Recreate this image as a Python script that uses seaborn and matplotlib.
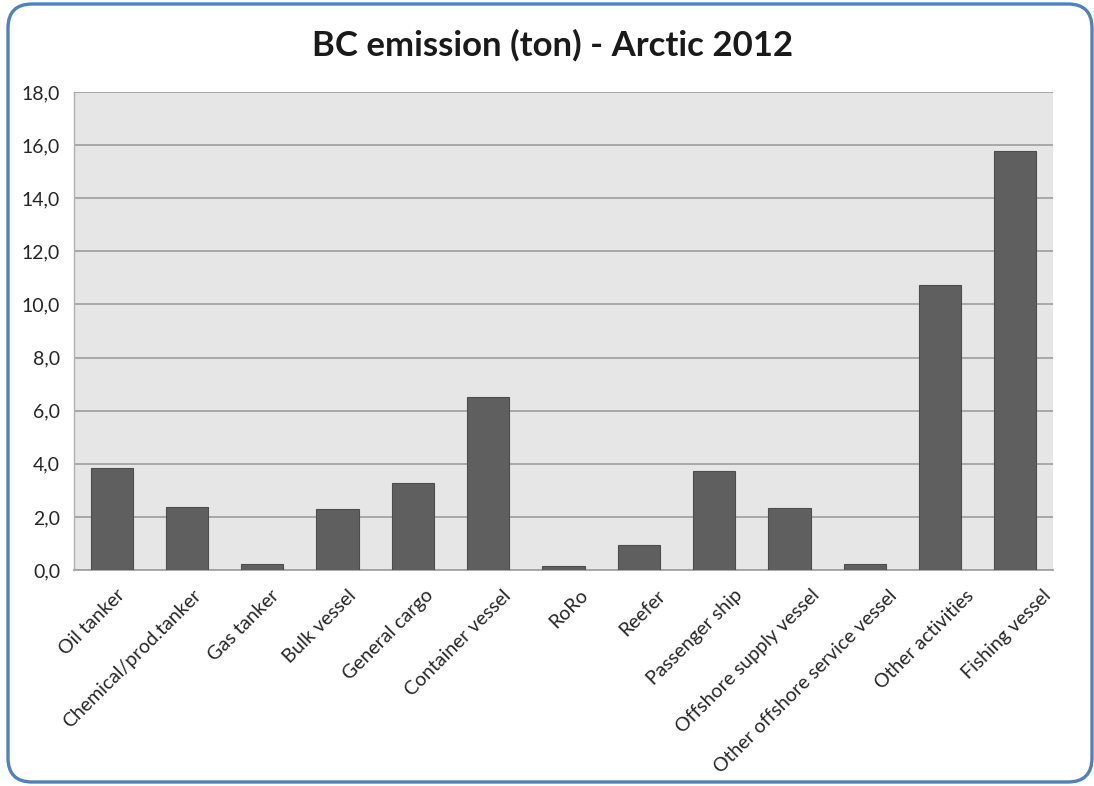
import matplotlib
matplotlib.use("Agg")
import matplotlib.pyplot as plt
from matplotlib.patches import FancyBboxPatch
from matplotlib.ticker import FuncFormatter
from matplotlib.transforms import ScaledTranslation
import seaborn as sns
import pandas as pd

# Black carbon emissions per ship type, Arctic 2012 (ton)
ship_types = [
    "Oil tanker", "Chemical/prod.tanker", "Gas tanker", "Bulk vessel",
    "General cargo", "Container vessel", "RoRo", "Reefer", "Passenger ship",
    "Offshore supply vessel", "Other offshore service vessel",
    "Other activities", "Fishing vessel",
]
bc_emission = [3.83, 2.38, 0.21, 2.30, 3.29, 6.53, 0.16, 0.94, 3.73,
               2.35, 0.21, 10.75, 15.79]
y_ticks = [0, 2, 4, 6, 8, 10, 12, 14, 16, 18]

df = pd.DataFrame({"ship_type": ship_types, "bc": bc_emission})

sns.set_theme(style="white")
plt.rcParams["font.family"] = ["Lato", "DejaVu Sans"]

W, H = 1094, 786
fig = plt.figure(figsize=(W / 100, H / 100), dpi=100)
fig.patch.set_facecolor("white")

# rounded blue frame around the whole chart
frame = FancyBboxPatch((8 / W, 1 - 782 / H), 1084 / W, 778 / H,
                       boxstyle="round,pad=0,rounding_size=0.022",
                       transform=fig.transFigure, facecolor="none",
                       edgecolor="#4f81bd", linewidth=2.4, zorder=5,
                       mutation_aspect=W / H)
fig.patches.append(frame)

ax = fig.add_axes([74 / W, 1 - 570 / H, (1053 - 74) / W, (570 - 92) / H])
ax.set_facecolor("#e6e6e6")

sns.barplot(data=df, x="ship_type", y="bc", ax=ax, color="#5f5f5f",
            width=0.56, saturation=1, edgecolor="#4d4d4d", linewidth=0.8,
            zorder=3)

ax.set_ylim(0, 18)
ax.set_yticks(y_ticks)
ax.yaxis.set_major_formatter(FuncFormatter(lambda v, p: f"{v:.1f}".replace(".", ",")))
ax.grid(axis="y", color="#a3a3a3", linewidth=1.3, zorder=1)
ax.set_axisbelow(True)
ax.set_xlabel("")
ax.set_ylabel("")

for side in ["top", "right"]:
    ax.spines[side].set_visible(False)
ax.spines["left"].set_color("#b0b0b0")
ax.spines["bottom"].set_color("#a3a3a3")
ax.spines["left"].set_linewidth(1.0)
ax.spines["bottom"].set_linewidth(1.3)

ax.tick_params(axis="y", labelsize=14, colors="#262626", length=0, pad=10)
ax.tick_params(axis="x", length=0, pad=12)
ax.set_xticks(range(len(ship_types)))
ax.set_xticklabels(ship_types, rotation=45, ha="right", va="top",
                   rotation_mode="anchor", fontsize=14, color="#262626")

# category labels sit on a slightly wider pitch than the bars
for i, lbl in enumerate(ax.get_xticklabels()):
    dx = (4 + 1.9 * i) / 100
    lbl.set_transform(lbl.get_transform() + ScaledTranslation(dx, 0, fig.dpi_scale_trans))

fig.text(0.505, 1 - 45 / H, "BC emission (ton) - Arctic 2012",
         ha="center", va="center", fontsize=25, fontweight="bold",
         color="#1a1a1a")

fig.savefig("out.png", dpi=100)
